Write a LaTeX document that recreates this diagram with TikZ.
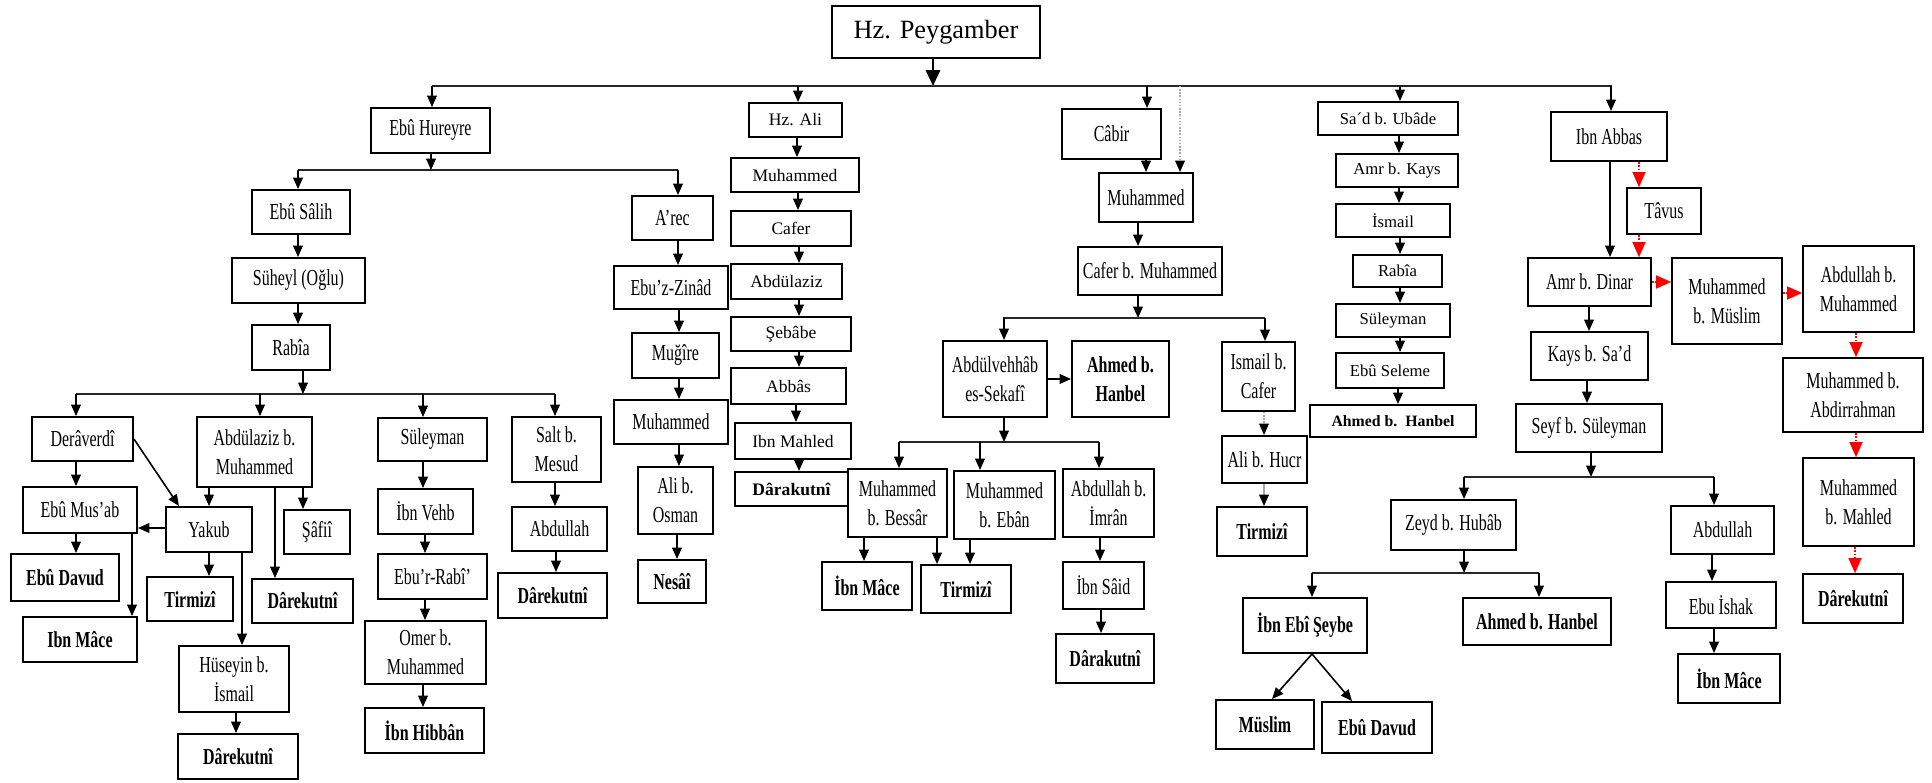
\documentclass[tikz,border=0pt]{standalone}
\usepackage{fontspec}
\setmainfont{Liberation Serif}
\newfontfamily\condfont[FakeStretch=0.7]{Liberation Serif}
\usetikzlibrary{arrows.meta}

% box given by its corners (x1,y1) (x2,y2) in pixel units
\newcommand\bx[7][cell]{\node[#1, minimum width={(#5-#3)*0.02cm}, minimum height={(#6-#4)*0.02cm}] (#2) at ({(#3+#5)/2},{(#4+#6)/2}) {#7};}
% vertical connector at column x between two anchors
\newcommand\vc[4][arr]{\draw[#1] (#3 -| #2,0) -- (#4 -| #2,0);}
% horizontal bus on the level of a coordinate
\newcommand\hb[3]{\draw[busline] (#1 -| #2,0) -- (#1 -| #3,0);}

\begin{document}
\begin{tikzpicture}[x=0.02cm,y=-0.02cm,
  cell/.style={draw, line width=1.1pt, inner sep=0pt, align=center,
    font=\condfont\fontsize{13}{16.5}\selectfont},
  leaf/.style={cell, font=\condfont\bfseries\fontsize{13}{16.5}\selectfont},
  plain/.style={cell, font=\fontsize{10}{12}\selectfont},
  plainb/.style={cell, font=\bfseries\fontsize{10}{12}\selectfont},
  small/.style={cell, font=\fontsize{9.5}{11}\selectfont},
  smallb/.style={cell, font=\bfseries\fontsize{9}{11}\selectfont},
  rootbox/.style={cell, line width=1.3pt, font=\fontsize{15}{18}\selectfont},
  arr/.style={line width=0.9pt, -{Triangle[width=5.5pt,length=6.5pt]}},
  bigarr/.style={line width=1.4pt, -{Triangle[width=8pt,length=9pt]}},
  busline/.style={line width=1.1pt, black!85},
  rarr/.style={red, densely dotted, line width=0.9pt, -{Triangle[width=7.5pt,length=8.5pt,line width=0.1pt,fill=red]}},
  garr/.style={gray!70, densely dotted, line width=0.8pt, -{Triangle[width=5.5pt,length=6.5pt,color=black]}},
  gsol/.style={gray!70, line width=0.8pt, -{Triangle[width=5.5pt,length=6.5pt,color=black]}},
]
\useasboundingbox (0,0) rectangle (1932,782);
\fill[white] (0,0) rectangle (1932,782);

% ---------- root ----------
\bx[rootbox]{peyg}{832}{6}{1040}{58}{Hz. Peygamber}

% ---------- first generation ----------
\bx{hureyre}{371}{108}{490}{153}{Ebû Hureyre}
\bx[plain]{ali}{749}{103}{842}{137}{Hz. Ali}
\bx{cabir}{1062}{109}{1161}{159}{Câbir}
\bx[small]{sad}{1318}{102}{1458}{135}{Sa´d b. Ubâde}
\bx{ibnabbas}{1551}{112}{1667}{161}{Ibn Abbas}

% ---------- Ebû Hureyre branch ----------
\bx{salih}{252}{190}{350}{234}{Ebû Sâlih}
\bx{suheyl}{232}{258}{365}{303}{Süheyl (Oğlu)}
\bx{rabiaA}{252}{325}{330}{370}{Rabîa}
\bx{deraverdi}{32}{417}{133}{461}{Derâverdî}
\bx{abdulazizA}{197}{417}{312}{487}{Abdülaziz b.\\Muhammed}
\bx{suleymanA}{378}{418}{487}{461}{Süleyman}
\bx{salt}{512}{417}{601}{482}{Salt b.\\Mesud}
\bx{musab}{23}{487}{137}{533}{Ebû Mus’ab}
\bx{yakub}{166}{507}{252}{552}{Yakub}
\bx{safii}{284}{510}{350}{554}{Şâfiî}
\bx[leaf]{ebudavudA}{11}{554}{119}{601}{Ebû Davud}
\bx[leaf]{tirmiziA}{147}{577}{233}{621}{Tirmizî}
\bx[leaf]{darekutniA}{252}{579}{353}{623}{Dârekutnî}
\bx[leaf]{ibnmaceA}{23}{617}{137}{662}{Ibn Mâce}
\bx{huseyin}{179}{646}{289}{712}{Hüseyin b.\\İsmail}
\bx[leaf]{darekutniB}{178}{734}{298}{779}{Dârekutnî}
\bx{ibnvehb}{378}{489}{473}{534}{İbn Vehb}
\bx{eburrabi}{378}{554}{487}{599}{Ebu’r-Rabî’}
\bx{omer}{365}{621}{486}{684}{Omer b.\\Muhammed}
\bx[leaf]{hibban}{365}{708}{484}{753}{İbn Hibbân}
\bx{abdullahA}{512}{507}{607}{551}{Abdullah}
\bx[leaf]{darekutniC}{498}{573}{607}{618}{Dârekutnî}
\bx{arec}{632}{196}{713}{240}{A’rec}
\bx{zinad}{614}{266}{728}{309}{Ebu’z-Zinâd}
\bx{mugire}{632}{333}{719}{378}{Muğîre}
\bx{muhammedA}{614}{400}{728}{444}{Muhammed}
\bx{aliosman}{638}{467}{713}{534}{Ali b.\\Osman}
\bx[leaf]{nesai}{638}{560}{706}{603}{Nesâî}

% ---------- Hz. Ali branch ----------
\bx[plain]{alimuh}{731}{158}{859}{192}{Muhammed}
\bx[plain]{alicafer}{731}{211}{851}{246}{Cafer}
\bx[plain]{aliabdulaziz}{731}{264}{842}{299}{Abdülaziz}
\bx[plain]{sebabe}{731}{317}{851}{351}{Şebâbe}
\bx[plain]{abbas}{731}{368}{846}{404}{Abbâs}
\bx[plain]{ibnmahled}{735}{423}{851}{459}{Ibn Mahled}
\bx[plainb]{darakutniA}{735}{472}{848}{506}{Dârakutnî}

% ---------- Câbir branch ----------
\bx{cabirmuh}{1099}{173}{1193}{222}{Muhammed}
\bx{cafermuh}{1078}{247}{1222}{295}{Cafer b. Muhammed}
\bx{abdulvehhab}{943}{341}{1047}{417}{Abdülvehhâb\\es-Sekafî}
\bx[leaf]{ahmedA}{1072}{341}{1169}{417}{Ahmed b.\\Hanbel}
\bx{ismailcafer}{1222}{342}{1295}{411}{Ismail b.\\Cafer}
\bx{bessar}{848}{469}{947}{537}{Muhammed\\b. Bessâr}
\bx{eban}{954}{471}{1055}{539}{Muhammed\\b. Ebân}
\bx{imran}{1063}{469}{1154}{537}{Abdullah b.\\İmrân}
\bx[leaf]{ibnmaceB}{822}{562}{912}{610}{İbn Mâce}
\bx[leaf]{tirmiziB}{921}{565}{1011}{613}{Tirmizî}
\bx{ibnsaid}{1063}{562}{1144}{609}{İbn Sâid}
\bx[leaf]{darakutniB}{1056}{634}{1154}{683}{Dârakutnî}
\bx{alihucr}{1222}{436}{1307}{483}{Ali b. Hucr}
\bx[leaf]{tirmiziC}{1217}{507}{1307}{556}{Tirmizî}

% ---------- Sa´d b. Ubâde branch ----------
\bx[small]{amrkays}{1336}{154}{1458}{187}{Amr b. Kays}
\bx[small]{ismail}{1336}{204}{1450}{237}{İsmail}
\bx[small]{rabiaB}{1353}{255}{1442}{287}{Rabîa}
\bx[small]{suleymanB}{1336}{304}{1450}{337}{Süleyman}
\bx[small]{ebuseleme}{1336}{353}{1444}{388}{Ebû Seleme}
\bx[smallb]{ahmedB}{1310}{405}{1476}{437}{Ahmed b.\ \ Hanbel}

% ---------- Ibn Abbas branch ----------
\bx{tavus}{1627}{188}{1701}{234}{Tâvus}
\bx{amrdinar}{1528}{258}{1651}{306}{Amr b. Dinar}
\bx{muhmuslim}{1672}{258}{1782}{344}{Muhammed\\b. Müslim}
\bx{abdmuh}{1803}{246}{1914}{332}{Abdullah b.\\Muhammed}
\bx{abdirrahman}{1783}{358}{1923}{432}{Muhammed b.\\Abdirrahman}
\bx{mahled}{1803}{458}{1914}{546}{Muhammed\\b. Mahled}
\bx[leaf]{darekutniD}{1803}{574}{1903}{623}{Dârekutnî}
\bx{kays}{1531}{332}{1648}{380}{Kays b. Sa’d}
\bx{seyf}{1516}{404}{1662}{452}{Seyf b. Süleyman}
\bx{zeyd}{1391}{500}{1516}{550}{Zeyd b. Hubâb}
\bx{abdullahB}{1671}{506}{1774}{554}{Abdullah}
\bx{ebuishak}{1666}{582}{1776}{628}{Ebu İshak}
\bx[leaf]{ibnmaceC}{1678}{654}{1780}{703}{İbn Mâce}
\bx[leaf]{ibnebiseybe}{1243}{598}{1367}{653}{İbn Ebî Şeybe}
\bx[leaf]{ahmedC}{1463}{598}{1611}{645}{Ahmed b. Hanbel}
\bx[leaf]{muslim}{1216}{700}{1314}{749}{Müslim}
\bx[leaf]{ebudavudB}{1322}{702}{1432}{753}{Ebû Davud}

% ---------- bus levels ----------
\coordinate (b0) at (0,86);
\coordinate (bH) at (0,170);
\coordinate (bR) at (0,394);
\coordinate (bC) at (0,318);
\coordinate (bV) at (0,442);
\coordinate (bS) at (0,477);
\coordinate (bZ) at (0,573);

% ---------- connectors ----------
\vc[bigarr]{933}{peyg.south}{b0}
\hb{b0}{432}{1612}
\vc{432}{b0}{hureyre.north}
\vc{798}{b0}{ali.north}
\vc{1147}{b0}{cabir.north}
\vc[garr]{1180}{b0}{cabirmuh.north}
\vc{1400}{b0}{sad.north}
\vc{1611}{b0}{ibnabbas.north}

% Ebû Hureyre
\vc{431}{hureyre.south}{bH}
\hb{bH}{298}{678}
\vc{298}{bH}{salih.north}
\vc{678}{bH}{arec.north}
\vc{298}{salih.south}{suheyl.north}
\vc{298}{suheyl.south}{rabiaA.north}
\vc{303}{rabiaA.south}{bR}
\hb{bR}{76}{555}
\vc{76}{bR}{deraverdi.north}
\vc{260}{bR}{abdulazizA.north}
\vc{423}{bR}{suleymanA.north}
\vc{555}{bR}{salt.north}
\vc{76}{deraverdi.south}{musab.north}
\draw[arr] (deraverdi.east) -- (yakub.north -| 179,0);
\vc{209}{abdulazizA.south}{yakub.north}
\vc{275}{abdulazizA.south}{darekutniA.north}
\vc{303}{abdulazizA.south}{safii.north}
\draw[arr] (yakub.west |- 0,528) -- (musab.east |- 0,528);
\vc{76}{musab.south}{ebudavudA.north}
\vc{132}{musab.south}{ibnmaceA.north}
\vc{209}{yakub.south}{tirmiziA.north}
\vc{242}{yakub.south}{huseyin.north}
\vc{236}{huseyin.south}{darekutniB.north}
\vc{423}{suleymanA.south}{ibnvehb.north}
\vc{425}{ibnvehb.south}{eburrabi.north}
\vc{425}{eburrabi.south}{omer.north}
\vc{423}{omer.south}{hibban.north}
\vc{555}{salt.south}{abdullahA.north}
\vc{556}{abdullahA.south}{darekutniC.north}
\vc{678}{arec.south}{zinad.north}
\vc{679}{zinad.south}{mugire.north}
\vc{679}{mugire.south}{muhammedA.north}
\vc{679}{muhammedA.south}{aliosman.north}
\vc{677}{aliosman.south}{nesai.north}

% Hz. Ali
\vc{797}{ali.south}{alimuh.north}
\vc{798}{alimuh.south}{alicafer.north}
\vc{799}{alicafer.south}{aliabdulaziz.north}
\vc{799}{aliabdulaziz.south}{sebabe.north}
\vc{799}{sebabe.south}{abbas.north}
\vc{796}{abbas.south}{ibnmahled.north}
\vc{799}{ibnmahled.south}{darakutniA.north}

% Câbir
\vc{1146}{cabir.south}{cabirmuh.north}
\vc{1138}{cabirmuh.south}{cafermuh.north}
\vc{1138}{cafermuh.south}{bC}
\hb{bC}{1003}{1265}
\vc{1004}{bC}{abdulvehhab.north}
\vc{1265}{bC}{ismailcafer.north}
\draw[arr] (abdulvehhab) -- (ahmedA);
\vc{1004}{abdulvehhab.south}{bV}
\hb{bV}{899}{1099}
\vc{899}{bV}{bessar.north}
\vc{980}{bV}{eban.north}
\vc{1099}{bV}{imran.north}
\vc{864}{bessar.south}{ibnmaceB.north}
\vc{937}{bessar.south}{tirmiziB.north}
\vc{970}{eban.south}{tirmiziB.north}
\vc{1100}{imran.south}{ibnsaid.north}
\vc{1101}{ibnsaid.south}{darakutniB.north}
\vc[garr]{1264}{ismailcafer.south}{alihucr.north}
\vc[gsol]{1264}{alihucr.south}{tirmiziC.north}

% Sa´d b. Ubâde
\vc{1399}{sad.south}{amrkays.north}
\vc{1399}{amrkays.south}{ismail.north}
\vc{1400}{ismail.south}{rabiaB.north}
\vc{1400}{rabiaB.south}{suleymanB.north}
\vc{1400}{suleymanB.south}{ebuseleme.north}
\vc{1398}{ebuseleme.south}{ahmedB.north}

% Ibn Abbas
\vc{1610}{ibnabbas.south}{amrdinar.north}
\vc[rarr]{1639}{ibnabbas.south}{tavus.north}
\vc[rarr]{1639}{tavus.south}{amrdinar.north}
\draw[rarr] (amrdinar.east |- 0,282) -- (muhmuslim.west |- 0,282);
\draw[rarr] (muhmuslim.east |- 0,293) -- (abdmuh.west |- 0,293);
\vc[rarr]{1856}{abdmuh.south}{abdirrahman.north}
\vc[rarr]{1856}{abdirrahman.south}{mahled.north}
\vc[rarr]{1855}{mahled.south}{darekutniD.north}
\vc{1589}{amrdinar.south}{kays.north}
\vc{1587}{kays.south}{seyf.north}
\vc{1591}{seyf.south}{bS}
\hb{bS}{1464}{1714}
\vc{1464}{bS}{zeyd.north}
\vc{1714}{bS}{abdullahB.north}
\vc{1712}{abdullahB.south}{ebuishak.north}
\vc{1714}{ebuishak.south}{ibnmaceC.north}
\vc{1464}{zeyd.south}{bZ}
\hb{bZ}{1312}{1539}
\vc{1312}{bZ}{ibnebiseybe.north}
\vc{1539}{bZ}{ahmedC.north}
\draw[arr] (ibnebiseybe.south -| 1312,0) -- (muslim.north -| 1272,0);
\draw[arr] (ibnebiseybe.south -| 1312,0) -- (ebudavudB.north -| 1352,0);
\end{tikzpicture}
\end{document}
